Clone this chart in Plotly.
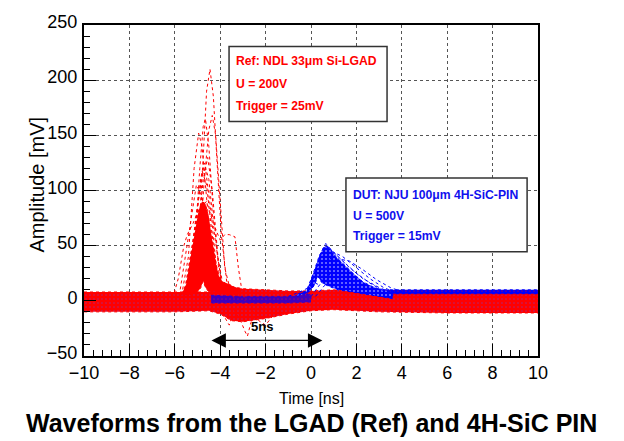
import plotly.graph_objects as go

# ---- noise bands of the overlaid waveforms (envelopes, mV) ----
band_t = [-10, -8, -6, -5.5, -4.5, -4.0, -3.5, -3.0, -2.0, -1.0, 0.0, 1.0, 2.0, 3.0, 6.0, 10]
red_band_hi = [8, 8, 8, 8, 8, 15, 13, 11, 10, 9, 9, 10, 8, 6, 6, 6]
red_band_lo = [-10, -10, -10, -10, -9, -12, -18, -19, -16, -12, -9, -8, -9, -10, -11, -11]
blue_band_hi = [7, 7, 7, 6, 6, 6, 6, 6, 6, 6, 7, 9, 9, 10, 10, 10]
blue_band_lo = [-7, -7, -7, -6, -4, -3, -3, -3, -3, -3, -2, -2, -4, -5, -5, -5]

# quiet blue baseline between the two pulses
blue_core_t = [-4.4, -3.0, -2.0, -1.0, 0.0]
blue_core_hi = [5, 4, 4, 4, 6]
blue_core_lo = [-2, -2, -2, -2, -1]

# ---- dense part of the LGAD pulses ----
red_pulse_t_up = [-5.7, -5.5, -5.3, -5.1, -4.95, -4.8, -4.65, -4.5, -4.35, -4.2, -4.05, -3.9, -3.7, -3.5, -3.2]
red_pulse_up = [6, 15, 40, 65, 82, 90, 88, 75, 55, 35, 22, 17, 16, 14, 10]
red_pulse_t_lo = [-3.2, -3.6, -4.0, -4.3, -4.5, -4.65, -4.75, -4.85, -5.0, -5.3, -5.7]
red_pulse_lo = [5, 6, 7, 9, 8, 12, 18, 12, 8, 6, 6]

# ---- dense part of the 4H-SiC PIN pulses ----
blue_pulse_t_up = [-0.6, -0.2, 0.1, 0.35, 0.55, 0.7, 0.85, 1.1, 1.5, 1.9, 2.3, 2.7, 3.1, 3.6]
blue_pulse_up = [6, 9, 25, 40, 48, 50, 47, 40, 32, 24, 17, 13, 10, 8]
blue_pulse_t_lo = [3.6, 3.0, 2.4, 1.8, 1.2, 0.8, 0.5, 0.3, 0.15, -0.1, -0.6]
blue_pulse_lo = [2, 4, 6, 8, 10, 13, 16, 22, 14, 8, 4]

# ---- individual LGAD waveforms standing out of the bulk ----
red_traces = [
    ([-5.4, -5.0, -4.75, -4.6, -4.45, -4.3, -4.15, -3.95, -3.7, -3.4], [5, 40, 130, 190, 210, 185, 130, 60, 15, 3]),
    ([-5.3, -4.95, -4.7, -4.5, -4.35, -4.2, -4.0, -3.8, -3.5], [5, 35, 110, 155, 168, 150, 90, 30, 5]),
    ([-5.5, -5.15, -4.9, -4.75, -4.65, -4.5, -4.3, -4.05, -3.7], [5, 40, 120, 158, 165, 140, 80, 25, 5]),
    ([-5.7, -5.4, -5.15, -4.95, -4.8, -4.6, -4.35, -4.0], [5, 40, 120, 152, 140, 90, 35, 5]),
    ([-5.3, -5.0, -4.75, -4.55, -4.35, -4.1, -3.8], [5, 50, 110, 130, 100, 40, 5]),
    ([-5.5, -5.1, -4.8, -4.6, -4.3, -4.0], [5, 70, 118, 105, 50, 8]),
    ([-5.8, -5.4, -5.05, -4.8, -4.5, -4.2], [5, 60, 105, 95, 40, 8]),
    ([-5.6, -5.2, -4.9, -4.7, -4.5, -4.25, -3.9], [5, 55, 100, 125, 110, 60, 10]),
    ([-5.4, -5.05, -4.85, -4.65, -4.4, -4.1], [5, 70, 112, 120, 80, 15]),
    ([-6.1, -5.85, -5.6, -5.45, -5.2, -4.9, -4.6, -4.3, -4.0, -3.8, -3.6, -3.35, -3.2, -3.05, -2.9],
     [2, 20, 50, 60, 70, 85, 90, 70, 55, 60, 60, 58, 30, 10, 0]),
    ([-3.4, -3.1, -2.9, -2.8, -2.65, -2.4, -2.1], [-8, -18, -28, -32, -20, -10, -5]),
    ([-4.0, -3.8, -3.6, -3.45, -3.2], [-6, -15, -22, -12, -6]),
    ([-2.6, -2.3, -2.0, -1.7, -1.4], [-8, -18, -22, -14, -6]),
]

# ---- individual 4H-SiC PIN waveforms at the edge of the bulk ----
blue_traces = [
    ([-0.3, 0.1, 0.4, 0.6, 0.8, 1.2, 1.7, 2.3, 3.0, 3.6], [5, 20, 42, 50, 48, 40, 30, 20, 12, 7]),
    ([-0.2, 0.25, 0.5, 0.65, 0.9, 1.4, 2.0, 2.6, 3.2], [5, 30, 46, 52, 46, 36, 25, 16, 9]),
    ([0.0, 0.4, 0.7, 1.0, 1.4, 2.0, 2.6, 3.2, 3.8], [4, 15, 32, 44, 40, 30, 20, 12, 7]),
    ([0.2, 0.6, 0.9, 1.2, 1.7, 2.3, 2.9, 3.5, 4.2], [4, 14, 28, 38, 36, 28, 19, 12, 7]),
    ([-1.0, -0.5, 0.0, 0.2, 0.4], [4, 8, 13, 16, 14]),
]

RED = "#ff0000"
BLUE = "#0000ff"
ARIAL = "Liberation Sans, Arial, Helvetica, sans-serif"


def band(t_up, v_up, t_lo, v_lo, color, speck=None, opacity=1.0, solidity=0.15):
    pattern = None
    if speck is not None:
        pattern = dict(shape=".", fgcolor=speck, bgcolor=color, size=4, solidity=solidity)
    return go.Scatter(
        x=list(t_up) + list(t_lo), y=list(v_up) + list(v_lo),
        mode="lines", fill="toself", fillcolor=color, fillpattern=pattern, opacity=opacity,
        line=dict(color=color, width=1, dash="dot"),
        hoverinfo="skip", showlegend=False,
    )


fig = go.Figure()
fig.add_trace(band(band_t, blue_band_hi, band_t[::-1], blue_band_lo[::-1], BLUE, speck=RED))
fig.add_trace(band(band_t, red_band_hi, band_t[::-1], red_band_lo[::-1], RED, speck="#5050ff", solidity=0.12))
fig.add_trace(band(blue_core_t, blue_core_hi, blue_core_t[::-1], blue_core_lo[::-1], BLUE, speck=RED, opacity=0.75))
fig.add_trace(band(red_pulse_t_up, red_pulse_up, red_pulse_t_lo, red_pulse_lo, RED))
for t, v in red_traces:
    fig.add_trace(go.Scatter(x=t, y=v, mode="lines", line=dict(color=RED, width=1, dash="dot"),
                             hoverinfo="skip", showlegend=False))
fig.add_trace(band(blue_pulse_t_up, blue_pulse_up, blue_pulse_t_lo, blue_pulse_lo, BLUE,
                   speck="white", solidity=0.2))
for t, v in blue_traces:
    fig.add_trace(go.Scatter(x=t, y=v, mode="lines", line=dict(color=BLUE, width=1, dash="dot"),
                             hoverinfo="skip", showlegend=False))

axis_common = dict(
    showline=True, linecolor="black", linewidth=2, mirror=True,
    ticks="inside", tickcolor="black", tickwidth=1, ticklen=12,
    showgrid=True, gridcolor="#555555", griddash="dot", gridwidth=1,
    zeroline=False,
    tickfont=dict(family=ARIAL, size=18, color="black"),
)
fig.update_xaxes(range=[-10, 10], dtick=2, tick0=-10, ticklabelstandoff=-1,
                 minor=dict(dtick=0.4, ticks="inside", ticklen=6, tickcolor="black", showgrid=False),
                 **axis_common)
fig.update_yaxes(range=[-50, 250], dtick=50, tick0=-50, ticklabelstandoff=1, ticklabelshift=-3,
                 minor=dict(dtick=10, ticks="inside", ticklen=6, tickcolor="black", showgrid=False),
                 **axis_common)

# legend-like info boxes
boxes = [
    dict(x0=-3.61, x1=3.35, y0=162.6, y1=230.6),
    dict(x0=1.54, x1=9.52, y0=44.4, y1=111.4),
]
for b in boxes:
    fig.add_shape(type="rect", xref="x", yref="y", fillcolor="white",
                  line=dict(color="#333333", width=1.5), layer="above", **b)

ref_lines = ["Ref: NDL 33μm Si-LGAD", "U = 200V", "Trigger = 25mV"]
ref_y = [217.3, 196.1, 176.7]
dut_lines = ["DUT: NJU 100μm 4H-SiC-PIN", "U = 500V", "Trigger = 15mV"]
dut_y = [95.6, 77.0, 58.5]
for txt, y in zip(ref_lines, ref_y):
    fig.add_annotation(x=-3.40, y=y, text=txt, showarrow=False, xanchor="left", yanchor="middle",
                       font=dict(family=ARIAL, size=12.2, color=RED, weight="bold"))
for txt, y in zip(dut_lines, dut_y):
    fig.add_annotation(x=1.78, y=y, text=txt, showarrow=False, xanchor="left", yanchor="middle",
                       font=dict(family=ARIAL, size=12.2, color="#1010ee", weight="bold"))

# 5 ns delay marker
fig.add_annotation(x=0.5, y=-35.9, ax=-4.45, ay=-35.9, xref="x", yref="y", axref="x", ayref="y",
                   text="", showarrow=True, arrowhead=2, startarrowhead=2, arrowside="end+start",
                   arrowsize=2.4, startarrowsize=2.4, arrowwidth=1.2, arrowcolor="black")
fig.add_annotation(x=-2.16, y=-23.7, text="5ns", showarrow=False,
                   font=dict(family=ARIAL, size=13, color="black", weight="bold"))

# axis titles and caption
fig.add_annotation(xref="paper", yref="paper", x=0.5, y=-0.129, text="Time [ns]", showarrow=False,
                   xanchor="center", yanchor="middle", font=dict(family=ARIAL, size=16, color="black"))
fig.add_annotation(xref="paper", yref="paper", x=-0.1035, y=0.518, text="Amplitude [mV]", showarrow=False,
                   textangle=-90, xanchor="center", yanchor="middle",
                   font=dict(family=ARIAL, size=20, color="black"))
fig.add_annotation(xref="paper", yref="paper", x=0.5, y=-0.203,
                   text="Waveforms from the LGAD (Ref) and 4H-SiC PIN", showarrow=False,
                   xanchor="center", yanchor="middle",
                   font=dict(family=ARIAL, size=25, color="black", weight="bold"))

fig.update_layout(
    width=624, height=441,
    margin=dict(l=84, r=86, t=16, b=85),
    paper_bgcolor="white", plot_bgcolor="white",
    showlegend=False,
)

fig.write_html("out.html")
